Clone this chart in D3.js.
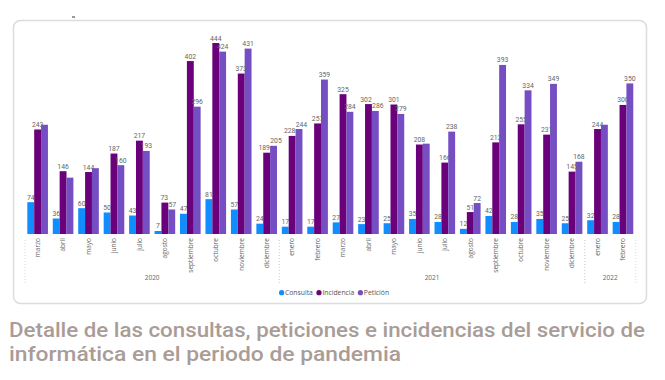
<!DOCTYPE html>
<html><head><meta charset="utf-8">
<script src="https://cdn.jsdelivr.net/npm/d3@7"></script>
<style>body{margin:0;background:#fff;}svg{display:block;}</style>
</head><body>
<svg id="c" width="665" height="380"></svg>
<script>
const months = ["marzo","abril","mayo","junio","julio","agosto","septiembre","octubre","noviembre","diciembre","enero","febrero","marzo","abril","mayo","junio","julio","agosto","septiembre","octubre","noviembre","diciembre","enero","febrero"];
const years = ["2020","2020","2020","2020","2020","2020","2020","2020","2020","2020","2021","2021","2021","2021","2021","2021","2021","2021","2021","2021","2021","2021","2022","2022"];
const seriesNames = ["Consulta","Incidencia","Petición"];
const consulta   = [74,36,60,50,43,7,47,81,57,24,17,17,27,23,25,35,28,12,42,28,35,25,32,28];
const incidencia = [243,146,144,187,217,73,402,444,373,189,228,257,325,302,301,208,166,51,213,255,231,145,244,300];
const peticion   = [254,131,153,160,193,57,296,424,431,205,244,359,284,286,279,210,238,72,393,334,349,168,254,350];
const colors = ["#118DFF","#6B007B","#744EC2"];
const titleLines = ["Detalle de las consultas, peticiones e incidencias del servicio de","informática en el periodo de pandemia"];

const svg = d3.select("#c");
const font = "'Open Sans', 'DejaVu Sans', sans-serif";
const lblFont = "Roboto, 'Open Sans', sans-serif";

// card
svg.append("rect").attr("x",13.5).attr("y",20.5).attr("width",633).attr("height",283)
  .attr("rx",7).attr("fill","#fff").attr("stroke","#dcdcdc").attr("stroke-width",1.5);
svg.append("rect").attr("x",72).attr("y",16).attr("width",3).attr("height",2).attr("fill","#999");

const keys = months.map((m,i)=>i);
const x = d3.scaleBand().domain(keys).range([24.9,635.7]).paddingInner(0.19).paddingOuter(0.095);
const xs = d3.scaleBand().domain(seriesNames).range([0,x.bandwidth()]);
const y = d3.scaleLinear().domain([0,444]).range([234,43]);

const data = keys.map(i=>({i, vals:[consulta[i],incidencia[i],peticion[i]]}));

const g = svg.append("g");
const groups = g.selectAll("g.grp").data(data).join("g").attr("transform",d=>`translate(${x(d.i)},0)`);
groups.selectAll("rect").data(d=>d.vals.map((v,k)=>({v,k})))
  .join("rect")
  .attr("x",d=>xs(seriesNames[d.k]))
  .attr("width",xs.bandwidth())
  .attr("y",d=>y(d.v))
  .attr("height",d=>y(0)-y(d.v))
  .attr("fill",d=>colors[d.k]);

// data labels with simple collision handling
groups.each(function(d){
  const gg = d3.select(this);
  const placed = [];
  d.vals.forEach((v,k)=>{
    const cx = xs(seriesNames[k]) + xs.bandwidth()/2;
    const ty = y(v) - 2.5;
    const hit = placed.some(p => Math.abs(p.y - ty) < 6.5 && Math.abs(p.x - cx) < 12);
    if(hit) return;
    const t = gg.append("text").attr("x",cx).attr("y",ty).attr("text-anchor","middle")
      .attr("font-family",lblFont).attr("font-size",6.8).attr("fill","#666").text(v);
    const w = t.node().getComputedTextLength();
    const prev = placed[placed.length-1];
    if(prev && Math.abs(prev.y - ty) < 8.5 && (cx - prev.x) < (w + prev.w)/2){
      const need = (w + prev.w)/2 - (cx - prev.x) + 0.3;
      prev.t.attr("x", prev.x - need/2);
      t.attr("x", cx + need/2);
    }
    placed.push({x:cx,y:ty,w,t});
  });
});

// x axis month labels
const ax = svg.append("g");
ax.selectAll("text").data(keys).join("text")
  .attr("transform",i=>`translate(${x(i)+x.bandwidth()/2+2.3},238) rotate(-90)`)
  .attr("text-anchor","end")
  .attr("font-family",font).attr("font-size",6.5).attr("fill","#666")
  .text(i=>months[i]);

// year groups
const yearList = Array.from(new Set(years));
const step = x.step();
yearList.forEach(yr=>{
  const idx = keys.filter(i=>years[i]===yr);
  const x0 = x(idx[0]) - step*x.paddingInner()/2;
  const x1 = x(idx[idx.length-1]) + x.bandwidth() + step*x.paddingInner()/2;
  svg.append("text").attr("x",(x0+x1)/2).attr("y",280).attr("text-anchor","middle")
    .attr("font-family",font).attr("font-size",6.5).attr("fill","#666").text(yr);
  [x0,x1].forEach(xx=>{
    svg.append("line").attr("x1",xx).attr("x2",xx).attr("y1",240).attr("y2",284)
      .attr("stroke","#d0d0d0").attr("stroke-width",0.8).attr("stroke-dasharray","1,2");
  });
});

// legend
const leg = svg.append("g").attr("transform","translate(0,295)");
let lx = 279;
seriesNames.forEach((s,k)=>{
  leg.append("circle").attr("cx",lx+2.6).attr("cy",-2.3).attr("r",2.6).attr("fill",colors[k]);
  const t = leg.append("text").attr("x",lx+6).attr("y",0).attr("font-family",font)
    .attr("font-size",6.8).attr("fill","#555").text(s);
  lx += 6 + t.node().getComputedTextLength() + 3.5;
});

// title
const tl = [[9,337,636],[9,361,392]];
titleLines.forEach((line,k)=>{
  svg.append("text").attr("x",tl[k][0]).attr("y",tl[k][1])
    .attr("font-family","Roboto, 'Open Sans', sans-serif").attr("font-weight",500).attr("font-size",20)
    .attr("fill","#a99c97").attr("textLength",tl[k][2]).attr("lengthAdjust","spacingAndGlyphs")
    .text(line);
});
</script>
</body></html>
